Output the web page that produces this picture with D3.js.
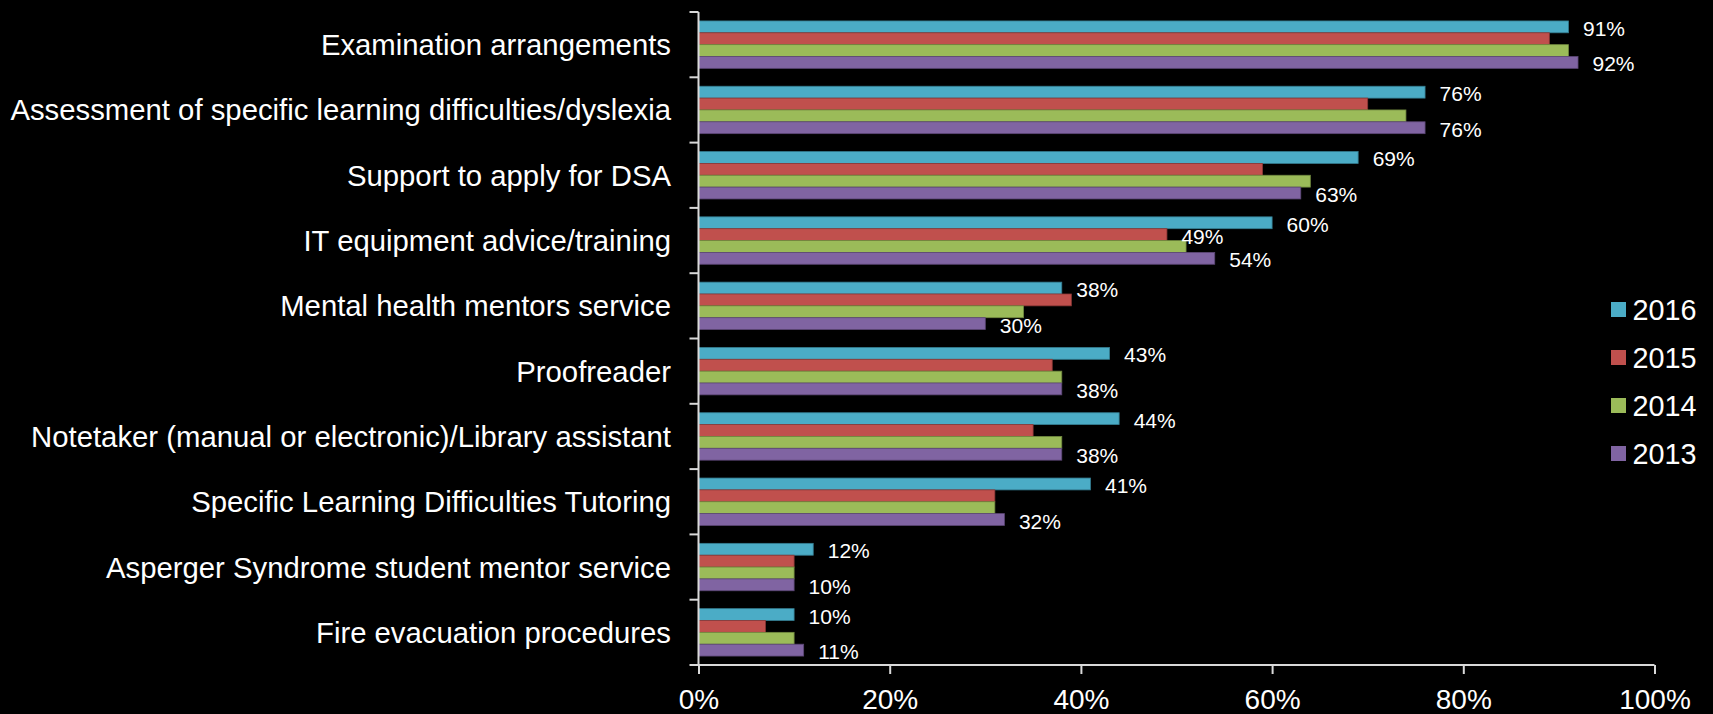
<!DOCTYPE html>
<html>
<head>
<meta charset="utf-8">
<script src="https://cdn.jsdelivr.net/npm/d3@7"></script>
<style>
  html, body { margin: 0; padding: 0; background: #000; }
  svg { display: block; }
  text { font-family: "Liberation Sans", Arial, sans-serif; fill: #fff; }
</style>
</head>
<body>
<svg id="chart" width="1713" height="714"></svg>
<script>
// Services offered, share of institutions per survey year
const categories = [
  "Examination arrangements",
  "Assessment of specific learning difficulties/dyslexia",
  "Support to apply for DSA",
  "IT equipment advice/training",
  "Mental health mentors service",
  "Proofreader",
  "Notetaker (manual or electronic)/Library assistant",
  "Specific Learning Difficulties Tutoring",
  "Asperger Syndrome student mentor service",
  "Fire evacuation procedures"
];
const years = ["2016", "2015", "2014", "2013"];
const values2016 = [91, 76, 69, 60, 38, 43, 44, 41, 12, 10];
const values2015 = [89, 70, 59, 49, 39, 37, 35, 31, 10, 7];
const values2014 = [91, 74, 64, 51, 34, 38, 38, 31, 10, 10];
const values2013 = [92, 76, 63, 54, 30, 38, 38, 32, 10, 11];
// which bars carry a value label
const labelled2016 = categories;
const labelled2015 = ["IT equipment advice/training"];
const labelled2014 = [];
const labelled2013 = categories;
const xTicks = [0, 20, 40, 60, 80, 100];

const colors = { "2016": "#4BACC6", "2015": "#C0504D", "2014": "#9BBB59", "2013": "#8064A2" };
const outlines = { "2016": "#357d91", "2015": "#8c3836", "2014": "#71893f", "2013": "#5c4776" };

const seriesValues = { "2016": values2016, "2015": values2015, "2014": values2014, "2013": values2013 };
const seriesLabelled = { "2016": labelled2016, "2015": labelled2015, "2014": labelled2014, "2013": labelled2013 };

const rows = categories.map((c, i) => ({
  category: c,
  bars: years.map(y => ({ year: y, value: seriesValues[y][i], labelled: seriesLabelled[y].includes(c) }))
}));

const svg = d3.select("#chart");
const plot = { left: 698.5, right: 1654.5, top: 12, bottom: 665 };

const x = d3.scaleLinear().domain([0, 100]).range([plot.left, plot.right]);
const y = d3.scaleBand().domain(categories).range([plot.top, plot.bottom])
  .paddingInner(0.274).paddingOuter(0.137);
const ySub = d3.scaleBand().domain(years).range([0, y.bandwidth()]);

// bars
const groups = svg.append("g").selectAll("g").data(rows).join("g")
  .attr("transform", d => `translate(0,${y(d.category)})`);

groups.selectAll("rect").data(d => d.bars).join("rect")
  .attr("x", x(0))
  .attr("y", d => ySub(d.year))
  .attr("width", d => x(d.value) - x(0))
  .attr("height", ySub.bandwidth())
  .attr("fill", d => colors[d.year])
  .attr("stroke", d => outlines[d.year])
  .attr("stroke-width", 0.8);

// value labels
groups.selectAll("text.val").data(d => d.bars.filter(b => b.labelled)).join("text")
  .attr("class", "val")
  .attr("x", d => x(d.value) + 14.5)
  .attr("y", d => ySub(d.year) + ySub.bandwidth() / 2 + 1.5)
  .attr("dominant-baseline", "central")
  .style("font-size", "21px")
  .text(d => d.value + "%");

// category axis
const step = y.step();
const bounds = d3.range(categories.length + 1).map(i => plot.top + i * step);
const axisColor = "#d9d9d9";
const yAxis = svg.append("g");
yAxis.append("line")
  .attr("x1", plot.left).attr("x2", plot.left)
  .attr("y1", plot.top).attr("y2", plot.bottom)
  .attr("stroke", axisColor).attr("stroke-width", 2);
yAxis.selectAll("line.tick").data(bounds).join("line")
  .attr("class", "tick")
  .attr("x1", plot.left - 9).attr("x2", plot.left)
  .attr("y1", d => d).attr("y2", d => d)
  .attr("stroke", axisColor).attr("stroke-width", 2);
yAxis.selectAll("text").data(categories).join("text")
  .attr("x", plot.left - 27.5)
  .attr("y", d => y(d) + y.bandwidth() / 2)
  .attr("text-anchor", "end")
  .attr("dominant-baseline", "central")
  .style("font-size", "29.3px")
  .text(d => d);

// value axis
const xAxis = svg.append("g")
  .attr("transform", `translate(0,${plot.bottom})`)
  .call(d3.axisBottom(x).tickValues(xTicks).tickFormat(d => d + "%").tickSize(9).tickPadding(15));
xAxis.select(".domain").attr("stroke", axisColor).attr("stroke-width", 2)
  .attr("d", `M${plot.left},0H${plot.right}`);
xAxis.selectAll(".tick line").attr("stroke", axisColor).attr("stroke-width", 2);
xAxis.selectAll(".tick text")
  .attr("fill", "#fff")
  .style("font-family", '"Liberation Sans", Arial, sans-serif')
  .style("font-size", "28px");

// legend
const legend = svg.append("g").attr("transform", "translate(1611,302)");
const items = legend.selectAll("g").data(years).join("g")
  .attr("transform", (d, i) => `translate(0,${i * 48})`);
items.append("rect").attr("width", 15).attr("height", 15).attr("fill", d => colors[d]);
items.append("text")
  .attr("x", 21.5).attr("y", 7.5)
  .attr("dominant-baseline", "central")
  .style("font-size", "28.8px")
  .text(d => d);
</script>
</body>
</html>
